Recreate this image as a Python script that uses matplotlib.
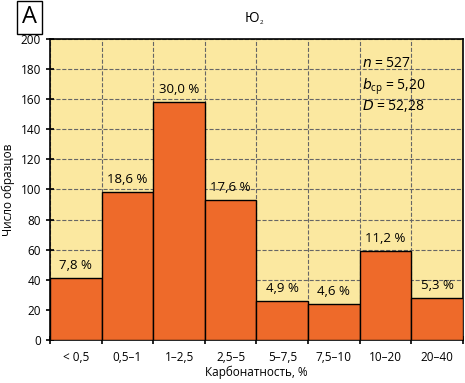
import numpy as np
import matplotlib.pyplot as plt

plt.rcParams['font.family'] = ['Open Sans', 'DejaVu Sans']

# данные гистограммы
categories = ['< 0,5', '0,5–1', '1–2,5', '2,5–5', '5–7,5', '7,5–10', '10–20', '20–40']
counts = [41, 98, 158, 93, 26, 24, 59, 28]
percents = ['7,8 %', '18,6 %', '30,0 %', '17,6 %', '4,9 %', '4,6 %', '11,2 %', '5,3 %']

fig = plt.figure(figsize=(4.65, 3.83), dpi=100)
ax = fig.add_axes([0.1075, 0.1123, 0.8882, 0.786])
ax.set_facecolor('#FBE8A0')

x = np.arange(len(categories))
ax.bar(x, counts, width=1.0, color='#EE6A2A', edgecolor='black', linewidth=1.0, zorder=3)

for xi, c, p in zip(x, counts, percents):
    ax.text(xi, c + 4, p, ha='center', va='bottom', fontsize=9.5, zorder=4)

ax.set_xlim(-0.5, len(categories) - 0.5)
ax.set_ylim(0, 200)
ax.set_yticks(range(0, 201, 20))
ax.set_xticks(np.arange(len(categories) + 1) - 0.5)
ax.set_xticklabels([])
ax.set_xticks(x, minor=True)
ax.set_xticklabels(categories, minor=True)
ax.tick_params(axis='x', which='minor', length=0, labelsize=8.5, pad=8)
ax.tick_params(axis='both', which='major', direction='inout', length=6, width=1.2, labelsize=8.5)
ax.grid(True, which='major', linestyle='--', color='#666666', linewidth=0.8, zorder=1)

for s in ax.spines.values():
    s.set_linewidth(1.2)

ax.set_xlabel('Карбонатность, %', fontsize=8.5, labelpad=1)
ax.set_ylabel('Число образцов', fontsize=8.5, labelpad=4)

# статистика
ax.text(0.755, 0.945, '$n$ = 527', transform=ax.transAxes, fontsize=10, va='top', zorder=5)
ax.text(0.755, 0.875, '$b_{\\mathregular{ср}}$ = 5,20', transform=ax.transAxes, fontsize=10, va='top', zorder=5)
ax.text(0.755, 0.805, '$D$ = 52,28', transform=ax.transAxes, fontsize=10, va='top', zorder=5)

# заголовок и буква панели
fig.text(0.558, 0.952, 'Ю', ha='right', va='center', fontsize=10)
fig.text(0.559, 0.94, '2', ha='left', va='center', fontsize=4.5)
fig.text(0.063, 0.955, 'А', ha='center', va='center', fontsize=17,
         bbox=dict(boxstyle='square,pad=0.2', facecolor='white', edgecolor='black', linewidth=1))

fig.savefig('out.png', dpi=100)
